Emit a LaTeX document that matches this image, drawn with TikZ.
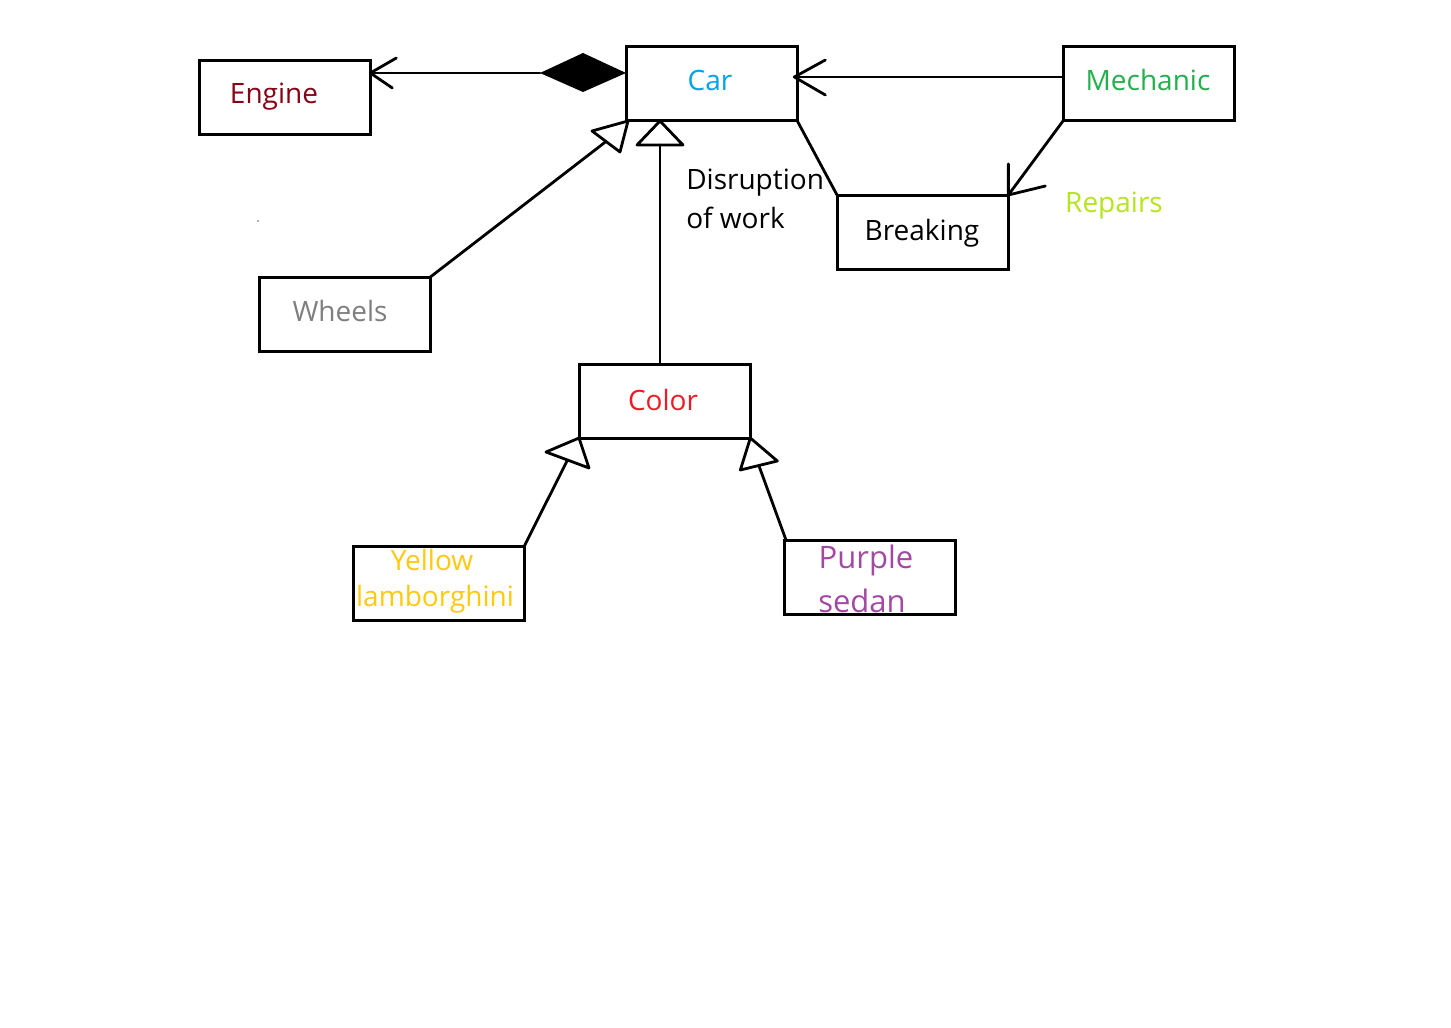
\documentclass[tikz,border=0pt]{standalone}
\usepackage{fontspec}
\setmainfont{Open Sans}
\usetikzlibrary{calc}
\definecolor{cEngine}{HTML}{880015}
\definecolor{cCar}{HTML}{00A2E8}
\definecolor{cMech}{HTML}{22B14C}
\definecolor{cRep}{HTML}{B5E61D}
\definecolor{cWheel}{HTML}{7F7F7F}
\definecolor{cColor}{HTML}{ED1C24}
\definecolor{cYellow}{HTML}{FFC90E}
\definecolor{cPurple}{HTML}{A349A4}
\begin{document}
\begin{tikzpicture}[x=0.75pt,y=-0.75pt,
  box/.style={draw, line width=2.25pt, minimum width=128.5pt, minimum height=55.5pt, inner sep=0pt, outer sep=0pt, anchor=north west},
  lbl/.style={font=\fontsize{21}{25}\selectfont, inner sep=0pt, anchor=base},
  conn/.style={line width=2.1pt, line cap=round, line join=round}]
\useasboundingbox (0,0) rectangle (1451,1027);
\fill[white] (0,0) rectangle (1451,1027);

% boxes
\node[box] (engine) at (199,61) {};
\node[box] (car) at (626,47) {};
\node[box] (mech) at (1063,47) {};
\node[box] (breaking) at (837,195) {};
\node[box] (wheels) at (259,277) {};
\node[box] (color) at (579,364) {};
\node[box] (yellow) at (353,546) {};
\node[box] (purple) at (784,540) {};

% texts
\node[lbl, text=cEngine] (tEngine) at (274,104) {Engine};
\node[lbl, text=cCar] (tCar) at (710,91) {Car};
\node[lbl, text=cMech] (tMech) at (1148,91) {Mechanic};
\node[lbl] (tBreak) at (922,240) {Breaking};
\node[lbl, text=cRep] (tRep) at (1114,212) {Repairs};
\node[lbl, anchor=base west] (tDis1) at (686,190) {Disruption};
\node[lbl, anchor=base west] (tDis2) at (686,228) {of work};
\node[lbl, text=cWheel] (tWheel) at (340,321) {Wheels};
\node[lbl, text=cColor] (tColor) at (663,410) {Color};
\node[lbl, text=cYellow] (tYel1) at (432,570) {Yellow};
\node[lbl, text=cYellow] (tYel2) at (435,606) {lamborghini};
\node[lbl, text=cPurple, font=\fontsize{23.25}{28}\selectfont] (tPur1) at (866,568) {Purple};
\node[lbl, text=cPurple, font=\fontsize{23.25}{28}\selectfont, anchor=base west] (tPur2) at (818,612) {sedan};

% stray dot
\fill[black!60] (258,221) circle (0.6pt);

% Engine <- Car composition
\coordinate (ea) at ($(engine.north east)+(0,12)$);
\coordinate (dR) at ($(car.north west)+(0,26)$);
\fill (dR) -- ++(-43,-20) -- ++(-43,20) -- ++(43,19) -- cycle;
\draw[conn] (ea) -- ($(dR)+(-86,0)$);
\draw[conn] ($(ea)+(26,-15)$) -- (ea) -- ($(ea)+(22,15)$);

% Mechanic -> Car
\coordinate (ma) at ($(car.north east)+(-3,30)$);
\draw[conn] ($(mech.north west)+(0,30)$) -- (ma);
\draw[conn] ($(ma)+(31,-17)$) -- (ma) -- ($(ma)+(31,18)$);

% Car -- Breaking
\draw[conn] (car.south east) -- (breaking.north west);

% Mechanic -> Breaking
\draw[conn] (mech.south west) -- (breaking.north east);
\draw[conn] ($(breaking.north east)+(0,-31)$) -- (breaking.north east) -- ($(breaking.north east)+(37,-9)$);

% Wheels -> Car (generalization)
\coordinate (wt) at ($(car.south west)+(2,0)$);
\draw[conn] (wheels.north east) -- ($(wt)+(-22,20.5)$);
\draw[conn] (wt) -- ++(-36,10) -- ++(28,21) -- cycle;

% Color -> Car
\coordinate (ct) at ($(car.south west)+(34,0)$);
\draw[conn] (ct |- color.north) -- ($(ct)+(0,24)$);
\draw[conn] (ct) -- ++(-23,24) -- ++(46,0) -- cycle;

% Yellow -> Color
\coordinate (yt) at (color.south west);
\draw[conn] (yellow.north east) -- ($(yt)+(-11.5,22)$);
\draw[conn] (yt) -- ++(-33,14) -- ++(43,16) -- cycle;

% Purple -> Color
\coordinate (pt) at (color.south east);
\draw[conn] ($(purple.north west)+(2,0)$) -- ($(pt)+(8.5,27.5)$);
\draw[conn] (pt) -- ++(-10,32) -- ++(37,-9) -- cycle;
\end{tikzpicture}
\end{document}
